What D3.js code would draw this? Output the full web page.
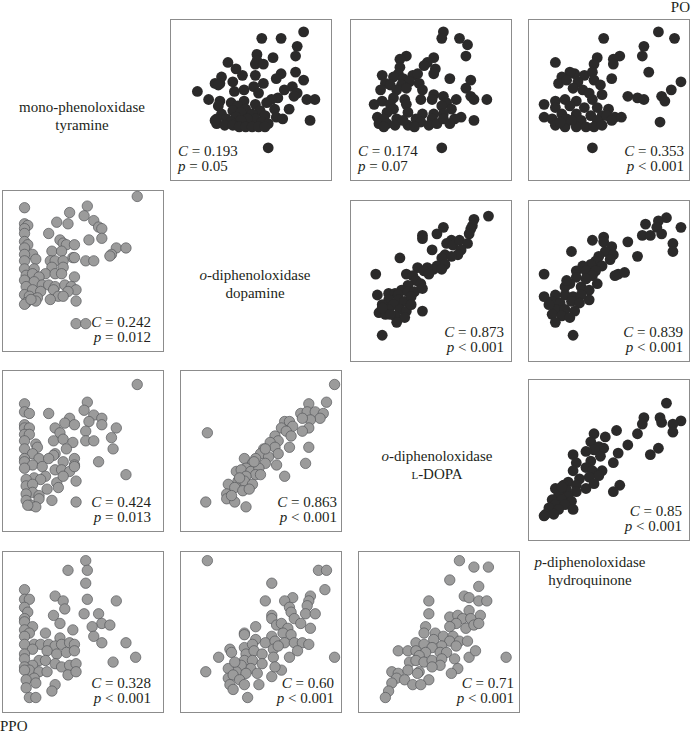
<!DOCTYPE html>
<html>
<head>
<meta charset="utf-8">
<script src="https://cdnjs.cloudflare.com/ajax/libs/d3/7.8.5/d3.min.js"></script>
<style>
body{margin:0;background:#fff;}
svg{display:block;}
text{font-family:"Liberation Serif","Times New Roman",serif;fill:#231f20;}
</style>
</head>
<body>
<svg></svg>
<script>
var width=692, height=733;

// enzyme activities, 0-100 relative units [x, y]
// PO (upper triangle)
var po_tyr_dop=[[83,92],[57,88],[69,88],[79,83],[54,78],[54,74],[64,76],[78,77],[36,73],[53,72],[58,72],[41,69],[78,67],[45,65],[69,66],[53,65],[66,63],[83,62],[32,64],[31,60],[28,60],[39,61],[58,60],[30,59],[52,58],[76,58],[71,56],[17,55],[46,56],[55,54],[40,55],[79,54],[77,52],[67,51],[63,50],[60,48],[24,50],[31,49],[46,49],[85,50],[90,50],[38,48],[53,47],[42,46],[30,46],[47,44],[74,44],[56,43],[65,44],[39,43],[44,42],[32,41],[51,41],[41,39],[35,38],[29,38],[59,40],[66,39],[70,38],[53,38],[48,38],[44,37],[38,36],[29,35],[87,37],[57,36],[61,35],[34,34],[39,34],[43,33],[47,33],[51,33],[55,33],[59,33],[28,37],[61,20]];
var po_tyr_ldopa=[[58,92],[57,88],[68,88],[73,84],[72,77],[35,77],[31,75],[52,76],[48,73],[46,71],[53,69],[52,66],[31,70],[30,66],[20,65],[27,64],[33,63],[39,65],[42,66],[62,63],[75,62],[22,60],[37,61],[25,59],[32,59],[43,60],[72,57],[19,56],[29,56],[35,57],[45,56],[52,53],[58,52],[75,52],[85,50],[66,50],[77,50],[20,49],[27,51],[34,50],[44,50],[51,50],[60,48],[15,47],[25,47],[35,47],[57,46],[63,44],[27,44],[36,42],[23,42],[45,41],[52,41],[58,41],[69,39],[17,39],[21,38],[29,38],[41,38],[51,38],[65,38],[77,37],[18,35],[23,35],[28,34],[36,34],[44,36],[49,34],[54,35],[62,35],[58,38],[57,20],[21,33],[40,33],[33,37]];
var po_tyr_hyd=[[81,92],[91,88],[47,88],[72,83],[71,77],[57,77],[53,75],[53,72],[43,76],[41,72],[17,73],[75,67],[52,63],[35,65],[29,66],[26,67],[40,67],[21,64],[19,60],[24,62],[31,61],[41,62],[95,61],[89,56],[45,59],[28,57],[34,56],[38,54],[46,53],[62,52],[68,51],[72,50],[83,52],[85,49],[17,49],[23,50],[30,49],[40,50],[10,47],[17,45],[26,46],[35,45],[43,45],[50,44],[21,41],[30,41],[39,40],[46,40],[10,39],[15,38],[24,38],[33,37],[43,37],[49,40],[54,39],[58,39],[82,36],[17,34],[23,33],[30,33],[36,33],[41,33],[46,34],[52,37],[40,20],[27,37],[20,36]];
var po_dop_ldopa=[[86,90],[77,88],[76,84],[75,82],[74,79],[58,83],[45,78],[45,76],[54,79],[63,75],[60,73],[64,72],[68,75],[73,73],[51,69],[69,69],[67,66],[59,66],[63,65],[57,64],[31,64],[59,60],[54,59],[52,57],[48,58],[42,58],[46,56],[57,57],[16,54],[35,54],[39,53],[49,54],[41,50],[44,48],[36,47],[32,44],[24,42],[28,42],[17,41],[24,38],[30,41],[36,43],[40,43],[45,45],[30,38],[27,35],[34,37],[38,40],[20,35],[24,32],[18,30],[31,32],[35,31],[22,29],[28,28],[45,31],[34,27],[29,24],[20,16],[25,29],[20,33],[38,35]];
var po_dop_hyd=[[86,89],[81,87],[95,83],[73,85],[80,83],[83,79],[71,78],[76,78],[90,73],[90,68],[47,77],[40,75],[47,74],[62,74],[27,68],[52,71],[48,68],[53,66],[68,65],[51,63],[44,65],[42,62],[39,60],[34,59],[46,59],[56,54],[60,55],[54,53],[10,54],[30,56],[36,56],[42,56],[40,53],[36,51],[30,52],[43,48],[26,48],[23,46],[33,46],[38,44],[38,38],[17,41],[10,40],[23,41],[28,40],[33,41],[15,37],[20,36],[27,37],[32,36],[17,32],[23,32],[29,31],[15,29],[21,28],[26,27],[17,24],[28,16],[13,35],[24,50]];
var po_ldopa_hyd=[[86,85],[95,74],[82,76],[83,73],[90,72],[90,67],[72,76],[71,72],[68,66],[81,57],[76,53],[55,68],[48,64],[41,66],[62,59],[56,54],[53,48],[39,61],[44,58],[47,57],[41,56],[36,55],[28,53],[45,52],[39,49],[30,48],[36,45],[28,43],[40,43],[46,43],[44,40],[38,39],[57,34],[53,30],[32,38],[25,36],[22,34],[30,34],[36,32],[41,35],[17,32],[24,31],[30,30],[19,28],[25,27],[15,25],[21,25],[27,24],[17,22],[23,22],[13,20],[19,19],[11,16],[16,16],[10,15],[28,19],[21,33]];
// PPO (lower triangle)
var ppo_dop_tyr=[[84,96],[14,89],[53,90],[42,86],[51,84],[34,80],[41,79],[57,81],[60,77],[62,76],[14,79],[16,78],[14,76],[29,73],[14,73],[62,70],[54,69],[36,69],[38,67],[40,66],[45,66],[14,68],[16,66],[71,64],[77,64],[14,64],[31,62],[37,62],[68,60],[67,59],[44,58],[45,58],[19,60],[21,57],[14,60],[52,56],[57,56],[30,56],[33,56],[14,56],[38,56],[38,52],[31,52],[14,51],[20,51],[27,48],[33,48],[37,48],[45,46],[15,47],[19,48],[23,46],[14,44],[20,43],[25,41],[29,41],[33,40],[39,41],[43,40],[46,38],[15,40],[19,38],[24,37],[32,38],[35,34],[41,37],[14,35],[17,34],[22,33],[21,31],[15,30],[30,32],[38,34],[46,31],[14,29],[18,32],[46,17],[52,17]];
var ppo_ldopa_tyr=[[84,91],[53,80],[51,75],[29,73],[14,79],[14,74],[17,73],[57,72],[62,70],[42,70],[54,68],[39,67],[45,66],[62,66],[71,64],[33,64],[14,66],[14,64],[17,64],[36,61],[52,62],[68,58],[14,60],[17,60],[32,56],[38,57],[44,55],[52,56],[57,56],[69,51],[21,54],[22,52],[14,56],[40,51],[14,51],[19,48],[33,48],[32,47],[45,45],[23,45],[14,45],[60,43],[14,43],[19,41],[29,45],[38,43],[45,41],[25,40],[33,38],[37,38],[42,37],[45,40],[77,35],[27,34],[20,33],[24,32],[34,30],[38,34],[46,31],[15,32],[15,28],[19,29],[28,26],[35,27],[19,24],[15,23],[23,22],[15,19],[18,16],[23,20],[21,15],[31,19],[46,18],[16,16],[14,39]];
var ppo_ldopa_dop=[[96,91],[80,79],[91,80],[17,61],[16,18],[75,73],[79,74],[84,74],[89,73],[87,70],[81,69],[76,70],[80,64],[65,68],[68,68],[70,65],[63,64],[66,62],[76,62],[69,59],[59,59],[61,56],[56,55],[68,52],[80,52],[52,51],[59,52],[50,48],[61,48],[47,45],[55,46],[40,45],[53,42],[60,41],[78,42],[45,42],[41,39],[35,37],[38,38],[44,37],[49,39],[47,35],[65,34],[41,34],[36,31],[40,31],[45,29],[30,29],[34,27],[39,25],[43,26],[29,23],[31,21],[29,20],[34,18],[41,15],[32,22],[50,35],[37,33],[53,51],[46,43]];
var ppo_hyd_tyr=[[52,94],[53,88],[41,88],[52,80],[53,70],[71,69],[14,76],[14,70],[17,70],[33,72],[38,69],[39,64],[14,65],[16,62],[32,60],[51,61],[60,61],[14,58],[14,56],[19,53],[36,55],[62,55],[67,54],[56,53],[44,51],[14,51],[27,49],[17,49],[36,46],[57,47],[14,47],[62,43],[77,43],[20,42],[24,42],[14,42],[29,42],[33,41],[37,42],[42,43],[45,42],[83,34],[69,31],[19,39],[28,38],[34,36],[40,37],[45,38],[14,36],[14,33],[23,32],[27,32],[33,30],[37,28],[42,29],[46,30],[19,29],[14,28],[17,26],[23,25],[28,25],[14,26],[20,21],[15,20],[41,23],[46,25],[33,17],[31,13],[15,15],[17,9],[21,9],[21,18]];
var ppo_hyd_dop=[[17,94],[86,88],[91,88],[90,76],[57,80],[53,69],[70,71],[65,69],[81,72],[80,69],[79,66],[78,61],[84,61],[68,65],[69,62],[57,60],[57,58],[71,58],[60,54],[63,55],[67,52],[75,55],[81,52],[47,53],[40,49],[40,48],[57,47],[64,49],[47,45],[69,48],[53,43],[59,44],[65,43],[71,43],[76,43],[80,42],[96,34],[31,39],[32,37],[40,40],[45,42],[41,36],[46,38],[51,36],[58,39],[58,34],[61,41],[68,34],[73,38],[16,25],[40,32],[45,32],[51,30],[44,27],[38,29],[35,25],[30,27],[41,24],[48,24],[57,22],[63,26],[30,21],[33,23],[37,20],[31,17],[40,17],[33,14],[49,17],[42,9],[24,34],[34,31],[59,28]];
var ppo_hyd_ldopa=[[63,94],[72,90],[81,90],[57,82],[75,78],[66,72],[69,71],[75,69],[80,69],[69,63],[76,60],[44,69],[44,61],[57,59],[62,60],[65,58],[70,58],[61,55],[67,52],[72,54],[75,55],[57,53],[42,53],[41,49],[48,49],[53,47],[59,47],[47,45],[57,44],[63,44],[68,44],[36,43],[41,42],[52,41],[61,41],[25,38],[31,38],[36,38],[46,40],[51,37],[55,37],[69,34],[73,38],[92,34],[42,37],[38,35],[32,31],[36,32],[41,31],[46,32],[52,33],[60,33],[51,29],[46,28],[62,27],[58,24],[21,25],[25,24],[31,26],[38,25],[24,21],[29,20],[44,20],[21,18],[34,17],[39,17],[19,13],[17,9],[37,24]];

// correlation coefficients and p values
var cValues=["0.193","0.174","0.353","0.873","0.839","0.85","0.242","0.424","0.863","0.328","0.60","0.71"];
var pValues=["= 0.05","= 0.07","< 0.001","< 0.001","< 0.001","< 0.001","= 0.012","= 0.013","< 0.001","< 0.001","< 0.001","< 0.001"];

// diagonal labels
var enzymes=[["mono-phenoloxidase","tyramine"],["o-diphenoloxidase","dopamine"],["o-diphenoloxidase","L-DOPA"],["p-diphenoloxidase","hydroquinone"]];

// layout
var size=161;
var poX=[170,350,528], poY=[19,200,379];
var ppoX=[2,180,358], ppoY=[190,370,551];

var panels=[
    {pts:po_tyr_dop,   grp:"PO",  row:0,col:1,anchor:"start",pad:8},
    {pts:po_tyr_ldopa, grp:"PO",  row:0,col:2,anchor:"start",pad:8},
    {pts:po_tyr_hyd,   grp:"PO",  row:0,col:3,anchor:"end",pad:5},
    {pts:po_dop_ldopa, grp:"PO",  row:1,col:2,anchor:"end",pad:7},
    {pts:po_dop_hyd,   grp:"PO",  row:1,col:3,anchor:"end",pad:6},
    {pts:po_ldopa_hyd, grp:"PO",  row:2,col:3,anchor:"end",pad:7},
    {pts:ppo_dop_tyr,  grp:"PPO", row:1,col:0,anchor:"end",pad:12},
    {pts:ppo_ldopa_tyr,grp:"PPO", row:2,col:0,anchor:"end",pad:12},
    {pts:ppo_ldopa_dop,grp:"PPO", row:2,col:1,anchor:"end",pad:4},
    {pts:ppo_hyd_tyr,  grp:"PPO", row:3,col:0,anchor:"end",pad:12},
    {pts:ppo_hyd_dop,  grp:"PPO", row:3,col:1,anchor:"end",pad:7},
    {pts:ppo_hyd_ldopa,grp:"PPO", row:3,col:2,anchor:"end",pad:5}
];

var svg=d3.select("svg")
    .attr("width",width)
    .attr("height",height);

panels.forEach(function(pn,i){
    var x0,y0;
    if(pn.grp=="PO"){ x0=poX[pn.col-1]; y0=poY[pn.row]; }
    else { x0=ppoX[pn.col]; y0=ppoY[pn.row-1]; }
    var xs=d3.scaleLinear().domain([0,100]).range([x0,x0+size]);
    var ys=d3.scaleLinear().domain([0,100]).range([y0+size,y0]);
    var g=svg.append("g").attr("class","panel");
    g.append("rect")
        .attr("x",x0+0.5).attr("y",y0+0.5)
        .attr("width",size).attr("height",size)
        .attr("fill","#fff")
        .attr("stroke","#8c8c8c")
        .attr("stroke-width",1);
    g.selectAll("circle")
        .data(pn.pts)
        .enter().append("circle")
        .attr("cx",function(d){return xs(d[0]);})
        .attr("cy",function(d){return ys(d[1]);})
        .attr("r",pn.grp=="PO"?5.4:5.2)
        .attr("fill",pn.grp=="PO"?"#2b2a2a":"#9b9b9b")
        .attr("stroke",pn.grp=="PO"?"none":"#58595b")
        .attr("stroke-width",0.7);
    var tx=pn.anchor=="start"?x0+pn.pad:x0+size-pn.pad;
    var t1=g.append("text").attr("x",tx).attr("y",y0+137)
        .attr("text-anchor",pn.anchor).style("font-size","15px");
    t1.append("tspan").style("font-style","italic").text("C");
    t1.append("tspan").text(" = "+cValues[i]);
    var t2=g.append("text").attr("x",tx).attr("y",y0+152)
        .attr("text-anchor",pn.anchor).style("font-size","15px");
    t2.append("tspan").style("font-style","italic").text("p");
    t2.append("tspan").text(" "+pValues[i]);
});

// diagonal labels
var labelPos=[[82,112],[255,280],[437,461],[590,567]];
enzymes.forEach(function(e,i){
    var t=svg.append("text")
        .attr("x",labelPos[i][0]).attr("y",labelPos[i][1])
        .attr("text-anchor","middle").style("font-size","15px");
    var first=e[0];
    if(first.indexOf("o-")==0 || first.indexOf("p-")==0){
        t.append("tspan").style("font-style","italic").text(first.charAt(0));
        t.append("tspan").text(first.slice(1));
    } else {
        t.append("tspan").text(first);
    }
    var t2=svg.append("text")
        .attr("x",labelPos[i][0]).attr("y",labelPos[i][1]+18)
        .attr("text-anchor","middle").style("font-size","15px");
    if(e[1]=="L-DOPA"){
        t2.append("tspan").style("font-size","11px").text("L");
        t2.append("tspan").text("-DOPA");
    } else {
        t2.text(e[1]);
    }
});

svg.append("text").attr("x",690).attr("y",12).attr("text-anchor","end")
    .style("font-size","15px").text("PO");
svg.append("text").attr("x",0).attr("y",731)
    .style("font-size","15px").text("PPO");
</script>
</body>
</html>
